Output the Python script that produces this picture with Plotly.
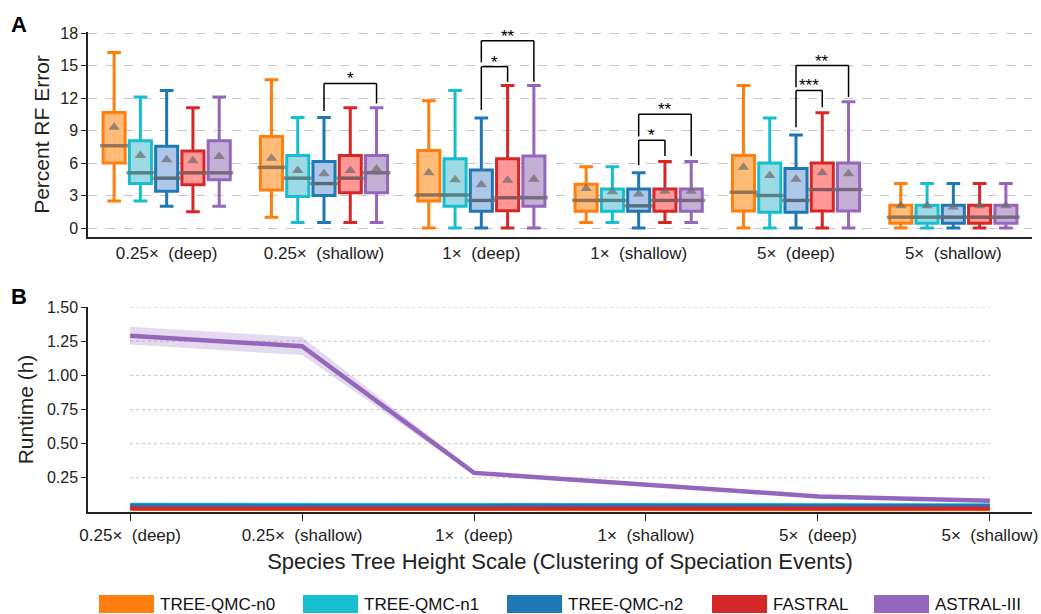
import plotly.graph_objects as go

# ---------------- data ----------------
SP = "\u00a0\u00a0"
categories = ["0.25×" + SP + "(deep)", "0.25×" + SP + "(shallow)",
              "1×" + SP + "(deep)", "1×" + SP + "(shallow)",
              "5×" + SP + "(deep)", "5×" + SP + "(shallow)"]
methods = ["TREE-QMC-n0", "TREE-QMC-n1", "TREE-QMC-n2", "FASTRAL", "ASTRAL-III"]

# Panel A: percent RF error box statistics (per method, per category)
rf_upper = [
    [16.2, 13.7, 11.75, 5.65, 13.15, 4.1],
    [12.1, 10.2, 12.7, 5.65, 10.15, 4.1],
    [12.7, 10.2, 10.15, 5.1, 8.6, 4.1],
    [11.1, 11.1, 13.15, 6.15, 10.65, 4.1],
    [12.1, 11.1, 13.15, 6.15, 11.65, 4.1],
]
rf_q3 = [
    [10.67, 8.45, 7.15, 4.05, 6.7, 2.1],
    [8.05, 6.7, 6.4, 3.6, 6.0, 2.1],
    [7.55, 6.15, 5.35, 3.6, 5.5, 2.1],
    [7.1, 6.7, 6.4, 3.6, 6.0, 2.1],
    [8.05, 6.7, 6.65, 3.6, 6.0, 2.1],
]
rf_median = [
    [7.6, 5.6, 3.05, 2.55, 3.3, 1.0],
    [5.1, 4.6, 3.05, 2.55, 3.0, 1.0],
    [4.6, 4.1, 2.55, 2.05, 2.55, 1.0],
    [5.1, 4.6, 2.8, 2.55, 3.55, 1.0],
    [5.1, 5.1, 2.8, 2.55, 3.55, 1.0],
]
rf_q1 = [
    [6.0, 3.5, 2.5, 1.55, 1.57, 0.43],
    [4.1, 2.9, 2.0, 1.55, 1.45, 0.43],
    [3.4, 3.0, 1.55, 1.55, 1.45, 0.43],
    [4.0, 3.25, 1.6, 1.55, 1.57, 0.43],
    [4.45, 3.25, 2.0, 1.55, 1.57, 0.43],
]
rf_lower = [
    [2.5, 1.0, 0.0, 0.5, 0.0, 0.0],
    [2.5, 0.5, 0.0, 0.5, 0.0, 0.0],
    [2.0, 0.5, 0.0, 0.0, 0.0, 0.0],
    [1.5, 0.5, 0.0, 0.5, 0.0, 0.0],
    [2.0, 0.5, 0.0, 0.5, 0.0, 0.0],
]
rf_mean = [
    [9.3, 6.45, 5.1, 3.65, 5.6, 2.05],
    [6.7, 5.3, 4.45, 3.35, 4.85, 2.05],
    [6.3, 5.0, 4.0, 3.15, 4.5, 1.95],
    [6.2, 5.3, 4.4, 3.4, 5.1, 2.05],
    [6.6, 5.45, 4.5, 3.4, 5.0, 2.05],
]

# significance brackets: (category index, method a, method b, top, left leg bottom, right leg bottom, label)
sig_brackets = [
    (1, 2, 4, 13.35, 10.8, 11.5, "*"),
    (2, 2, 3, 14.9, 10.9, 13.5, "*"),
    (2, 2, 4, 17.3, 15.3, 13.5, "**"),
    (3, 2, 3, 8.1, 5.8, 6.65, "*"),
    (3, 2, 4, 10.5, 8.45, 6.65, "**"),
    (4, 2, 3, 12.7, 9.3, 11.15, "***"),
    (4, 2, 4, 15.0, 13.0, 12.1, "**"),
]

# Panel B: runtime (hours)
runtime_mean = [
    [0.022, 0.022, 0.021, 0.021, 0.020, 0.020],
    [0.053, 0.052, 0.051, 0.051, 0.050, 0.050],
    [0.047, 0.046, 0.045, 0.045, 0.044, 0.044],
    [0.026, 0.026, 0.025, 0.025, 0.025, 0.025],
    [1.29, 1.213, 0.286, 0.20, 0.114, 0.083],
]
astral_lo = [1.225, 1.148, 0.272, 0.19, 0.106, 0.076]
astral_hi = [1.355, 1.28, 0.30, 0.21, 0.122, 0.09]

rf_ticks = [0, 3, 6, 9, 12, 15, 18]
rt_ticks = [0.25, 0.50, 0.75, 1.00, 1.25, 1.50]
rt_ticktext = ["0.25", "0.50", "0.75", "1.00", "1.25", "1.50"]

# ---------------- style ----------------
colors = ["#ff7f0e", "#17becf", "#1f77b4", "#d62728", "#9467bd"]
fills = ["#ffbb78", "#9edae5", "#aec7e8", "#ff9896", "#c5b0d5"]
GRAY = "#6b6b6b"
FONT = "Liberation Sans, Arial, Helvetica, sans-serif"

W, H = 1041, 614
ML, MR, MT, MB = 88, 9, 32, 102
PW, PH = W - ML - MR, H - MT - MB
def px_x(px):
    return (px - ML) / PW
def px_y(py):
    return (H - MB - py) / PH

BOXGAP = 0.165
BOXGROUPGAP = 0.16
SLOT = (1 - BOXGAP) / len(methods)

fig = go.Figure()

# ---- Panel A boxes ----
for m, name in enumerate(methods):
    fig.add_trace(go.Box(
        x=categories, q1=rf_q1[m], median=rf_median[m], q3=rf_q3[m],
        lowerfence=rf_lower[m], upperfence=rf_upper[m],
        name=name, marker_color=colors[m], fillcolor=fills[m],
        line=dict(color=colors[m], width=3), whiskerwidth=0.62,
        boxpoints=False, showlegend=False, offsetgroup=str(m),
        alignmentgroup="A", xaxis="x", yaxis="y", hoverinfo="skip",
    ))
# medians (gray bar) and means (gray triangle)
for m, name in enumerate(methods):
    n = len(categories)
    fig.add_trace(go.Scatter(
        x=list(categories) + list(categories),
        y=rf_median[m] + rf_mean[m],
        mode="markers",
        marker=dict(symbol=["line-ew"] * n + ["triangle-up"] * n,
                    size=[20] * n + [10] * n,
                    color=GRAY,
                    line=dict(color=GRAY, width=[3.5] * n + [0] * n)),
        showlegend=False, offsetgroup=str(m), alignmentgroup="A",
        xaxis="x", yaxis="y", hoverinfo="skip", cliponaxis=False,
    ))

# ---- Panel B lines ----
for m, name in enumerate(methods):
    if m == 4:
        fig.add_trace(go.Scatter(x=categories, y=astral_lo, mode="lines",
                                 line=dict(width=0, color=colors[m]), showlegend=False,
                                 xaxis="x2", yaxis="y2", offsetgroup="rt", hoverinfo="skip"))
        fig.add_trace(go.Scatter(x=categories, y=astral_hi, mode="lines",
                                 line=dict(width=0, color=colors[m]), fill="tonexty",
                                 fillcolor="rgba(148,103,189,0.25)", showlegend=False,
                                 xaxis="x2", yaxis="y2", offsetgroup="rt", hoverinfo="skip"))
    fig.add_trace(go.Scatter(x=categories, y=runtime_mean[m], mode="lines", name=name,
                             line=dict(color=colors[m], width=4.5 if m == 4 else 4),
                             showlegend=False, xaxis="x2", yaxis="y2",
                             offsetgroup="rt", hoverinfo="skip", cliponaxis=False))

shapes = []
annotations = []
# brackets
for (c, a, b, top, lb, rb, lab) in sig_brackets:
    xa = c + (a - 2) * SLOT
    xb = c + (b - 2) * SLOT
    for (x0, y0, x1, y1) in [(xa, lb, xa, top), (xa, top, xb, top), (xb, top, xb, rb)]:
        shapes.append(dict(type="line", xref="x", yref="y", x0=x0, y0=y0, x1=x1, y1=y1,
                           line=dict(color="black", width=1.5)))
    annotations.append(dict(x=(xa + xb) / 2, y=top, xref="x", yref="y", text=lab,
                            showarrow=False, yanchor="bottom", yshift=-7,
                            font=dict(size=17, color="black", family=FONT)))

# panel B dotted grid lines spanning first to last category
for t in rt_ticks:
    shapes.append(dict(type="line", xref="x2", yref="y2", x0=0, x1=len(categories) - 1,
                       y0=t, y1=t, layer="below",
                       line=dict(color="#c4c4c4", width=1, dash="dot")))

# panel labels
annotations.append(dict(x=px_x(19), y=px_y(24), xref="paper", yref="paper", text="<b>A</b>",
                        showarrow=False, xanchor="center", yanchor="middle",
                        font=dict(size=22, color="black", family=FONT)))
annotations.append(dict(x=px_x(19), y=px_y(297), xref="paper", yref="paper", text="<b>B</b>",
                        showarrow=False, xanchor="center", yanchor="middle",
                        font=dict(size=22, color="black", family=FONT)))

# custom legend (wide colour patches)
legend_px = [99, 303, 507, 712, 874]
for m, name in enumerate(methods):
    x0 = legend_px[m]
    shapes.append(dict(type="rect", xref="paper", yref="paper",
                       x0=px_x(x0), x1=px_x(x0 + 55), y0=px_y(595), y1=px_y(613),
                       fillcolor=colors[m], line=dict(width=0)))
    annotations.append(dict(x=px_x(x0 + 59), y=px_y(604), xref="paper", yref="paper",
                            text=name, showarrow=False, xanchor="left", yanchor="middle",
                            font=dict(size=17, color="#111", family=FONT)))

axis_common = dict(showline=True, linecolor="#222", linewidth=1.5, zeroline=False,
                   tickfont=dict(size=16, color="#222", family=FONT), automargin=False)
xtickfont = dict(size=17, color="#222", family=FONT)

fig.update_layout(
    width=W, height=H,
    margin=dict(l=ML, r=MR, t=MT, b=MB),
    paper_bgcolor="white", plot_bgcolor="white",
    font=dict(family=FONT, color="#222"),
    boxmode="group", boxgap=BOXGAP, boxgroupgap=BOXGROUPGAP,
    scattermode="group", scattergap=BOXGAP,
    showlegend=False,
    xaxis=dict(axis_common, type="category", categoryorder="array", categoryarray=categories,
               range=[-0.5, 5.5], ticks="", showgrid=False, anchor="y", tickfont=xtickfont),
    yaxis=dict(axis_common, domain=[px_y(237), 1.0], range=[-0.83, 18.1],
               tickvals=rf_ticks, ticks="outside", ticklen=5, tickwidth=1.2, tickcolor="#222",
               showgrid=True, gridcolor="#c4c4c4", griddash="dash", gridwidth=1,
               title=dict(text="Percent RF Error", font=dict(size=21, family=FONT), standoff=5),
               anchor="x"),
    xaxis2=dict(axis_common, type="category", categoryorder="array", categoryarray=categories,
                range=[-0.245, 5.245], ticks="outside", ticklen=7, tickwidth=1.2, tickcolor="#222",
                showgrid=False, anchor="y2", tickfont=xtickfont,
                title=dict(text="Species Tree Height Scale (Clustering of Speciation Events)",
                           font=dict(size=22, family=FONT), standoff=9)),
    yaxis2=dict(axis_common, domain=[0, px_y(307)], range=[0, 1.5],
                tickvals=rt_ticks, ticktext=rt_ticktext, ticks="outside", ticklen=5,
                tickwidth=1.2, tickcolor="#222", showgrid=False,
                title=dict(text="Runtime (h)", font=dict(size=21, family=FONT), standoff=8),
                anchor="x2"),
    shapes=shapes, annotations=annotations,
)

fig.write_html("out.html", config={"displayModeBar": False},
               post_script="document.body.style.margin='0px';")
